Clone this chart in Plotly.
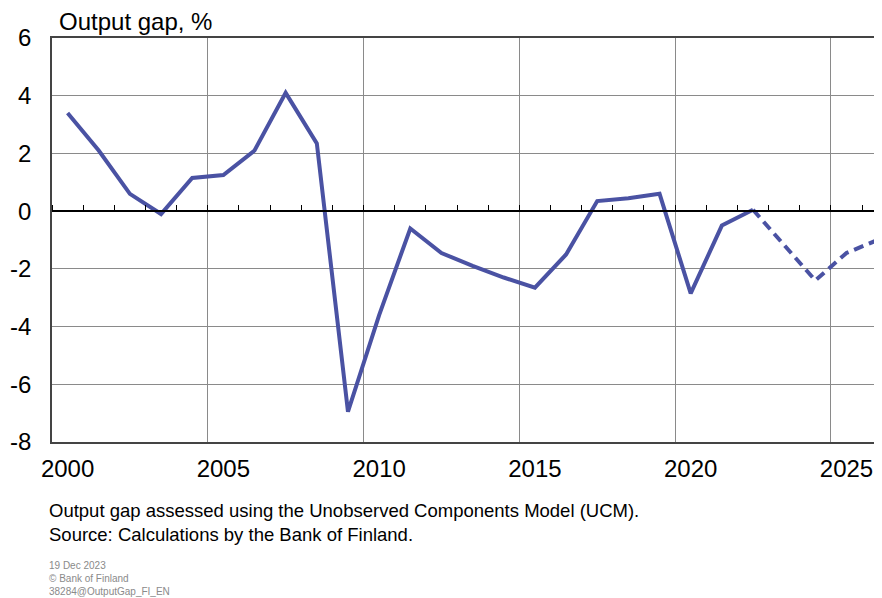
import plotly.graph_objects as go

years = list(range(2000, 2027))
output_gap = [3.4, 2.1, 0.6, -0.1, 1.15, 1.25, 2.1, 4.1, 2.35, -6.95,
              -3.6, -0.6, -1.45, -1.9, -2.3, -2.65, -1.5, 0.35, 0.45, 0.6,
              -2.85, -0.5, 0.05, -1.2, -2.4, -1.45, -1.0]
last_actual_year = 2022
x_tick_labels = ["2000", "2005", "2010", "2015", "2020", "2025"]
y_ticks = [-8, -6, -4, -2, 0, 2, 4, 6]
y_tick_labels = ["-8", "-6", "-4", "-2", "0", "2", "4", "6"]

title_text = "Output gap, %"
note_lines = ["Output gap assessed using the Unobserved Components Model (UCM).",
              "Source: Calculations by the Bank of Finland."]
small_lines = ["19 Dec 2023", "© Bank of Finland", "38284@OutputGap_FI_EN"]

line_color = "#4a52a3"
font_family = "Liberation Sans, Arial, sans-serif"

# mid-year positions
xmid = [y + 0.5 for y in years]
split = years.index(last_actual_year)

fig = go.Figure()
fig.add_trace(go.Scatter(x=xmid[:split + 1], y=output_gap[:split + 1], mode="lines",
                         line=dict(color=line_color, width=4), showlegend=False))
fig.add_trace(go.Scatter(x=xmid[split:], y=output_gap[split:], mode="lines",
                         line=dict(color=line_color, width=4, dash="10px,6px"),
                         showlegend=False))

xr = [2000, 2026.64]
# page body adds an 8px margin, so the figure is sized to fit the remaining window
fig.update_layout(
    width=874, height=590,
    margin=dict(l=44, r=0, t=30, b=156),
    paper_bgcolor="white", plot_bgcolor="white",
    font=dict(family=font_family, color="black"),
    xaxis=dict(range=xr, tick0=2000, dtick=5, showgrid=True, gridcolor="#8a8a8a",
               gridwidth=1, showticklabels=False, ticks="", zeroline=False,
               showline=True, linecolor="#444444", linewidth=2, mirror=True,
               automargin=False),
    xaxis2=dict(range=xr, overlaying="x", side="bottom", anchor="y",
                tickmode="array", tickvals=[int(t) + 0.5 for t in x_tick_labels],
                ticktext=x_tick_labels, showgrid=False, zeroline=False,
                ticks="", ticklabelstandoff=10, tickfont=dict(size=24),
                automargin=False),
    xaxis3=dict(range=xr, overlaying="x", side="top", anchor="free",
                position=8 / 14, tick0=2000, dtick=1, ticks="outside", ticklen=5,
                tickcolor="black", tickwidth=1, showticklabels=False, showgrid=False,
                zeroline=False, showline=True, linecolor="black", linewidth=1.5,
                automargin=False),
    yaxis=dict(range=[-8, 6], tickmode="array", tickvals=y_ticks, ticktext=y_tick_labels,
               showgrid=True, gridcolor="#8a8a8a",
               gridwidth=1, zeroline=False, ticks="", ticklabelstandoff=14,
               tickfont=dict(size=24), showline=True, linecolor="#444444",
               linewidth=1.5, mirror=True, automargin=False),
)
# invisible traces to activate overlay axes
fig.add_trace(go.Scatter(x=[xr[0]], y=[0], xaxis="x2", mode="markers",
                         marker=dict(opacity=0), showlegend=False, hoverinfo="skip"))
fig.add_trace(go.Scatter(x=[xr[0]], y=[0], xaxis="x3", mode="markers",
                         marker=dict(opacity=0), showlegend=False, hoverinfo="skip"))

fig.add_annotation(text=title_text, xref="paper", yref="paper", x=(57 - 52) / 830,
                   y=1, yshift=1, xanchor="left", yanchor="bottom", showarrow=False,
                   font=dict(size=24, color="black"))
fig.add_annotation(text="<br>".join(note_lines), xref="paper", yref="paper",
                   x=(47 - 52) / 830, y=-(498 - 442) / 404, xanchor="left", yanchor="top",
                   align="left", showarrow=False, font=dict(size=18.5, color="black"))
fig.add_annotation(text="<br>".join(small_lines), xref="paper", yref="paper",
                   x=(47 - 52) / 830, y=-(558 - 442) / 404, xanchor="left", yanchor="top",
                   align="left", showarrow=False, font=dict(size=10, color="#8a8a8a"))

fig.write_html("out.html")
